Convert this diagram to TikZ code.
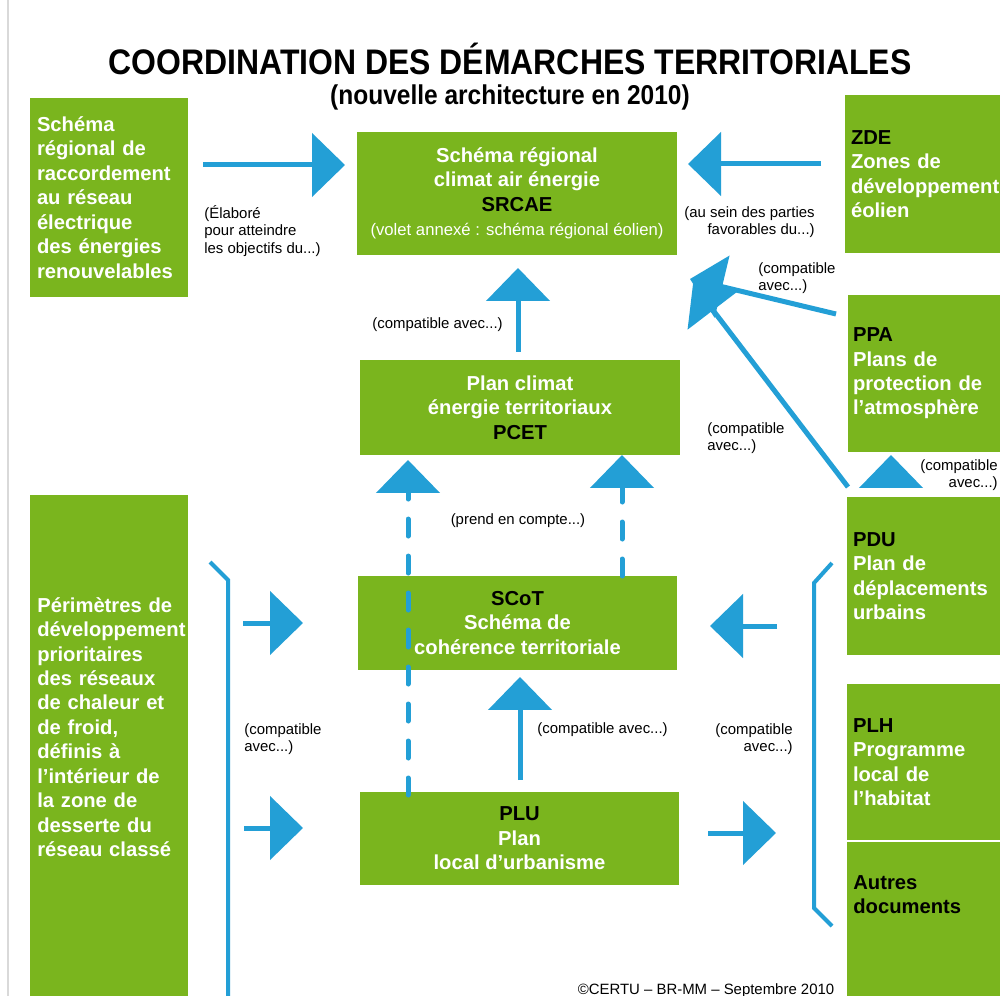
\documentclass[tikz,border=0pt]{standalone}
\usepackage{fontspec}
\setmainfont{Liberation Sans}
\newfontfamily\titrefont[FakeStretch=0.9]{Liberation Sans}
\usetikzlibrary{arrows.meta}
\definecolor{vert}{RGB}{122,181,30}
\definecolor{bleu}{RGB}{35,159,214}

\begin{document}
\begin{tikzpicture}[
        % Define styles for consistency
        x=0.02cm, y=-0.02cm,
        bloc/.style={fill=vert, text=white, inner sep=0pt, align=center,
                     font=\fontsize{11.5}{13.9}\selectfont\bfseries},
        bloc gauche/.style={bloc, align=left, text width=3.02cm},
        fleche/.style={bleu, line width=0.1cm, -{Triangle[length=0.66cm, width=1.26cm]}},
        pointille/.style={fleche, line cap=round, dash pattern=on 0.34cm off 0.4cm},
        accolade/.style={bleu, line width=0.08cm},
        note/.style={font=\fontsize{8.5}{9.9}\selectfont, inner sep=0pt, align=left}
    ]

        \clip (0,0) rectangle (1000,996);
        \fill[white] (0,0) rectangle (1000,996);
        \draw[black!15, line width=0.06cm] (8,0) -- (8,996);

        % --- Titles ---
        \node[font=\titrefont\fontsize{20.2}{24}\selectfont\bfseries] (titre) at (510,59)
            {COORDINATION DES DÉMARCHES TERRITORIALES};
        \node[font=\titrefont\fontsize{15.5}{18}\selectfont\bfseries] (soustitre) at (510,97)
            {(nouvelle architecture en 2010)};

        % --- Boxes ---
        % Left column
        \node[bloc gauche, text width=2.88cm, minimum width=3.16cm, minimum height=3.98cm] (srrr) at (109,197.5)
            {Schéma\\régional de\\raccordement\\au réseau\\électrique\\des énergies\\renouvelables};
        \node[bloc, minimum width=3.16cm, minimum height=10.3cm] (pdr) at (109,752.5) {};
        \node[bloc gauche, fill=none, anchor=west] (pdr-txt) at (37,727)
            {Périmètres de\\développement\\prioritaires\\des réseaux\\de chaleur et\\de froid,\\définis à\\l’intérieur de\\la zone de\\desserte du\\réseau classé};

        % Central column
        \node[bloc, minimum width=6.4cm, minimum height=2.46cm] (srcae) at (517,193.5)
            {Schéma régional\\climat air énergie\\\textcolor{black}{SRCAE}\\
             {\mdseries\fontsize{9.5}{13.9}\selectfont (volet annexé : schéma régional éolien)}};
        \node[bloc, minimum width=6.4cm, minimum height=1.9cm] (pcet) at (520,407.5)
            {Plan climat\\énergie territoriaux\\\textcolor{black}{PCET}};
        \node[bloc, minimum width=6.38cm, minimum height=1.88cm] (scot) at (517.5,623)
            {\textcolor{black}{SCoT}\\Schéma de\\cohérence territoriale};
        \node[bloc, minimum width=6.38cm, minimum height=1.86cm] (plu) at (519.5,838.5)
            {\textcolor{black}{PLU}\\Plan\\local d’urbanisme};

        % Right column
        \node[bloc gauche, text width=3.06cm, minimum width=3.3cm, minimum height=3.16cm] (zde) at (927.5,174)
            {\textcolor{black}{ZDE}\\Zones de\\développement\\éolien};
        \node[bloc gauche, text width=3.04cm, minimum width=3.24cm, minimum height=3.14cm] (ppa) at (929,373.5)
            {\textcolor{black}{PPA}\\Plans de\\protection de\\l’atmosphère};
        \node[bloc gauche, minimum width=3.26cm, minimum height=3.16cm] (pdu) at (928.5,576)
            {\textcolor{black}{PDU}\\Plan de\\déplacements\\urbains};
        \node[bloc gauche, minimum width=3.26cm, minimum height=3.12cm] (plh) at (928.5,762)
            {\textcolor{black}{PLH}\\Programme\\local de\\l’habitat};
        \node[bloc, minimum width=3.26cm, minimum height=3.36cm] (autres) at (928.5,926) {};
        \node[bloc gauche, fill=none, text=black, anchor=west] (autres-txt) at (853,894.5)
            {Autres\\documents};

        % --- Coordinates ---
        \coordinate (srrr-out) at (203,165);
        \coordinate (srcae-in-l) at (345,165);
        \coordinate (zde-out) at (821,164);
        \coordinate (srcae-in-r) at (688,164);
        \coordinate (ppa-out) at (836,314);
        \coordinate (srcae-in-d) at (690,279);
        \coordinate (pdu-out) at (848,487);
        \coordinate (srcae-in-d2) at (693,284);
        \coordinate (pcet-out) at (518,352);
        \coordinate (srcae-in-b) at (518,268);
        \coordinate (plu-out-l) at (408,795);
        \coordinate (pcet-in-l) at (408,460);
        \coordinate (scot-out) at (622,576);
        \coordinate (pcet-in-r) at (622,455);
        \coordinate (plu-out) at (520,780);
        \coordinate (scot-in-b) at (520,677);
        \coordinate (acc-g-1) at (243,623);
        \coordinate (scot-in-l) at (303,623);
        \coordinate (acc-g-2) at (244,828);
        \coordinate (plu-in-l) at (303,828);
        \coordinate (acc-d-1) at (777,626);
        \coordinate (scot-in-r) at (710,626);
        \coordinate (plu-out-r) at (708,833);
        \coordinate (acc-d-2) at (776,833);
        \coordinate (pdu-tri) at (891,488);
        \coordinate (ppa-in) at (891,455);

        % --- Arrows ---
        \draw[fleche] (srrr-out) -- (srcae-in-l);
        \draw[fleche] (zde-out) -- (srcae-in-r);
        \draw[fleche] (ppa-out) -- (srcae-in-d);
        \draw[fleche] (pdu-out) -- (srcae-in-d2);
        \draw[fleche] (pcet-out) -- (srcae-in-b);
        \draw[pointille] (plu-out-l) -- (pcet-in-l);
        \draw[pointille] (scot-out) -- (pcet-in-r);
        \draw[fleche] (plu-out) -- (scot-in-b);
        \draw[fleche] (acc-g-1) -- (scot-in-l);
        \draw[fleche] (acc-g-2) -- (plu-in-l);
        \draw[fleche] (acc-d-1) -- (scot-in-r);
        \draw[fleche] (plu-out-r) -- (acc-d-2);
        \draw[fleche] (pdu-tri) -- (ppa-in);

        % Brackets
        \draw[accolade] (210,562) -- (228,580) -- (228,1010);
        \draw[accolade] (832,563) -- (814,583) -- (814,908) -- (832,926);

        % --- Labels ---
        \node[note, anchor=north west] (n-elabore) at (204,205)
            {(Élaboré\\pour atteindre\\les objectifs du...)};
        \node[note, align=right, anchor=north east] (n-sein) at (815,206)
            {(au sein des parties\\favorables du...)};
        \node[note, anchor=north west] (n-ppa) at (758,262) {(compatible\\avec...)};
        \node[note, anchor=north west] (n-pdu) at (707,422) {(compatible\\avec...)};
        \node[note, anchor=west] (n-pcet) at (372,325) {(compatible avec...)};
        \node[note, align=right, anchor=north east] (n-pdu-ppa) at (998,459) {(compatible\\avec...)};
        \node[note] (n-prend) at (518,521) {(prend en compte...)};
        \node[note, anchor=west] (n-plu) at (537,730) {(compatible avec...)};
        \node[note, anchor=north west] (n-gauche) at (244,723) {(compatible\\avec...)};
        \node[note, align=right, anchor=north east] (n-droite) at (793,723) {(compatible\\avec...)};
        \node[note] (credit) at (706,991) {©CERTU – BR-MM – Septembre 2010};

    \end{tikzpicture}
\end{document}
